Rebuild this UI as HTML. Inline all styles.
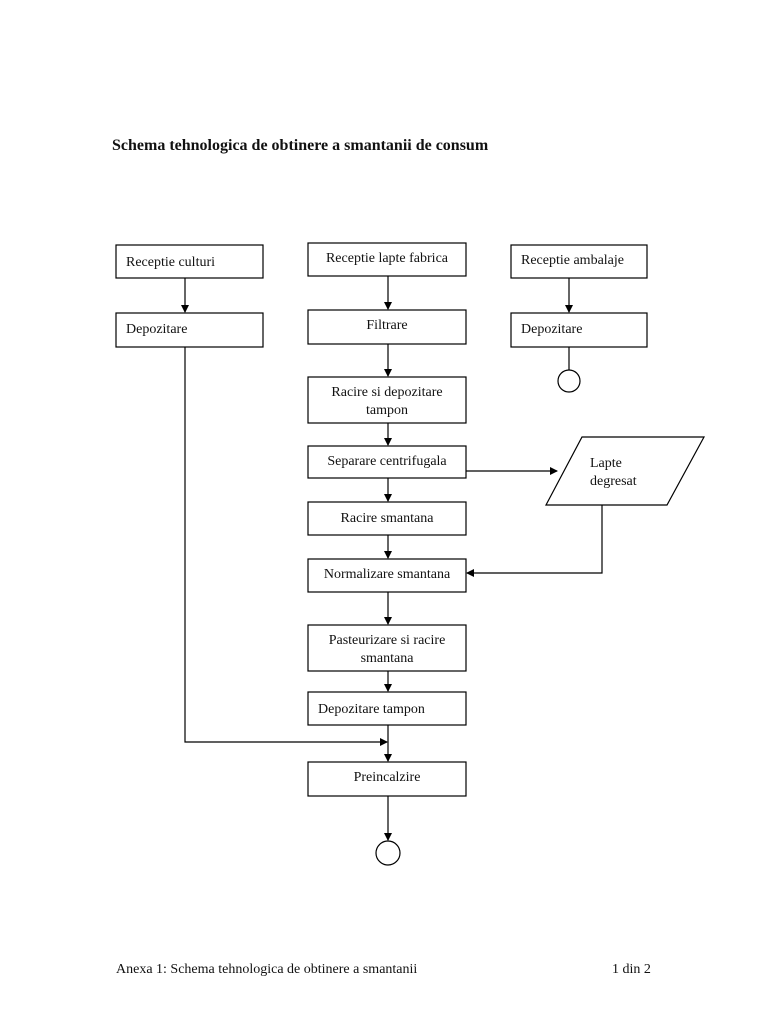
<!DOCTYPE html>
<html><head><meta charset="utf-8"><style>
html,body{margin:0;padding:0;background:#fff;}
svg{display:block;}
text{font-family:"Liberation Serif",serif;font-size:14px;fill:#111;}
</style></head><body>
<svg width="768" height="1024" viewBox="0 0 768 1024" xmlns="http://www.w3.org/2000/svg">
<defs><marker id="a" markerWidth="8" markerHeight="8" refX="7" refY="4" orient="auto" markerUnits="userSpaceOnUse"><path d="M0,0 L8,4 L0,8 z" fill="#000"/></marker></defs>
<text x="112" y="150" style="font-size:16px;font-weight:bold">Schema tehnologica de obtinere a smantanii de consum</text>
<g fill="none" stroke="#000" stroke-width="1.2">
<rect x="116" y="245" width="147" height="33"/>
<rect x="116" y="313" width="147" height="34"/>
<rect x="308" y="243" width="158" height="33"/>
<rect x="308" y="310" width="158" height="34"/>
<rect x="308" y="377" width="158" height="46"/>
<rect x="308" y="446" width="158" height="32"/>
<rect x="308" y="502" width="158" height="33"/>
<rect x="308" y="559" width="158" height="33"/>
<rect x="308" y="625" width="158" height="46"/>
<rect x="308" y="692" width="158" height="33"/>
<rect x="308" y="762" width="158" height="34"/>
<rect x="511" y="245" width="136" height="33"/>
<rect x="511" y="313" width="136" height="34"/>
<circle cx="569" cy="381" r="11"/>
<circle cx="388" cy="853" r="12"/>
<polygon points="546,505 582,437 704,437 667,505"/>
<line x1="185" y1="278" x2="185" y2="312" marker-end="url(#a)"/>
<line x1="388" y1="276" x2="388" y2="309" marker-end="url(#a)"/>
<line x1="388" y1="344" x2="388" y2="376" marker-end="url(#a)"/>
<line x1="388" y1="423" x2="388" y2="445" marker-end="url(#a)"/>
<line x1="388" y1="478" x2="388" y2="501" marker-end="url(#a)"/>
<line x1="388" y1="535" x2="388" y2="558" marker-end="url(#a)"/>
<line x1="388" y1="592" x2="388" y2="624" marker-end="url(#a)"/>
<line x1="388" y1="671" x2="388" y2="691" marker-end="url(#a)"/>
<line x1="388" y1="725" x2="388" y2="761" marker-end="url(#a)"/>
<line x1="388" y1="796" x2="388" y2="840" marker-end="url(#a)"/>
<line x1="569" y1="278" x2="569" y2="312" marker-end="url(#a)"/>
<line x1="569" y1="347" x2="569" y2="370"/>
<polyline points="185,347 185,742 387,742" marker-end="url(#a)"/>
<line x1="466" y1="471" x2="557" y2="471" marker-end="url(#a)"/>
<polyline points="602,505 602,573 467,573" marker-end="url(#a)"/>
</g>
<text x="126" y="266">Receptie culturi</text>
<text x="126" y="333">Depozitare</text>
<text x="387" y="262" text-anchor="middle">Receptie lapte fabrica</text>
<text x="387" y="329" text-anchor="middle">Filtrare</text>
<text x="387" y="396" text-anchor="middle">Racire si depozitare</text>
<text x="387" y="414" text-anchor="middle">tampon</text>
<text x="387" y="465" text-anchor="middle">Separare centrifugala</text>
<text x="387" y="522" text-anchor="middle">Racire smantana</text>
<text x="387" y="578" text-anchor="middle">Normalizare smantana</text>
<text x="387" y="644" text-anchor="middle">Pasteurizare si racire</text>
<text x="387" y="662" text-anchor="middle">smantana</text>
<text x="318" y="713">Depozitare tampon</text>
<text x="387" y="781" text-anchor="middle">Preincalzire</text>
<text x="521" y="264">Receptie ambalaje</text>
<text x="521" y="333">Depozitare</text>
<text x="590" y="467">Lapte</text>
<text x="590" y="485">degresat</text>
<text x="116" y="973">Anexa 1: Schema tehnologica de obtinere a smantanii</text>
<text x="612" y="973">1 din 2</text>
</svg>
</body></html>
